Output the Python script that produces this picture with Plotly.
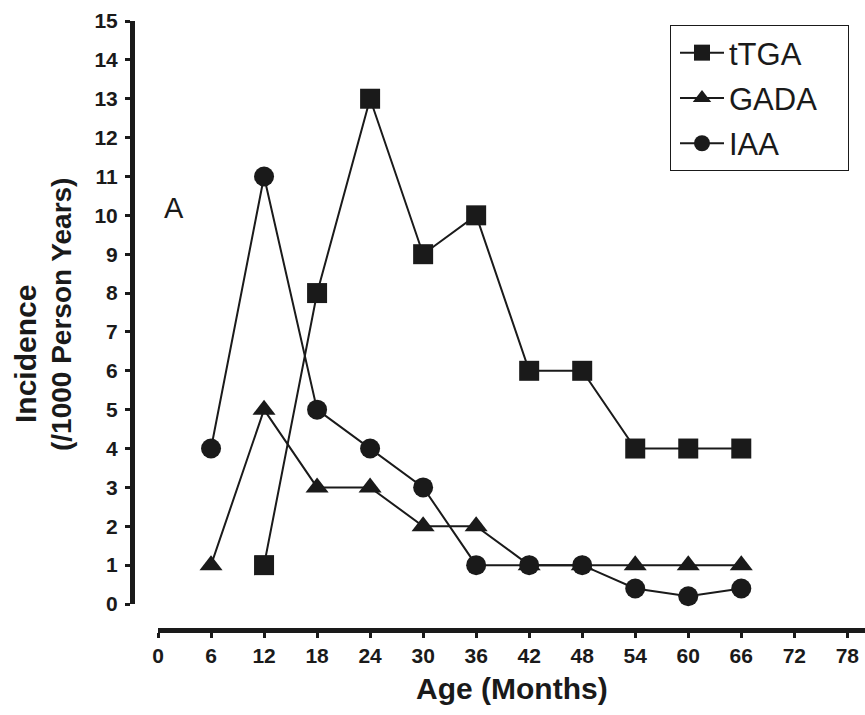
import plotly.graph_objects as go

# ---- data ----
ttga_age = [12, 18, 24, 30, 36, 42, 48, 54, 60, 66]
ttga_inc = [1, 8, 13, 9, 10, 6, 6, 4, 4, 4]
gada_age = [6, 12, 18, 24, 30, 36, 42, 48, 54, 60, 66]
gada_inc = [1, 5, 3, 3, 2, 2, 1, 1, 1, 1, 1]
iaa_age = [6, 12, 18, 24, 30, 36, 42, 48, 54, 60, 66]
iaa_inc = [4, 11, 5, 4, 3, 1, 1, 1, 0.4, 0.2, 0.4]
series_names = ["tTGA", "GADA", "IAA"]
x_ticks = list(range(0, 79, 6))
y_ticks = list(range(0, 16))

W, H = 865, 715
FONT = "Arial, Liberation Sans, Helvetica, sans-serif"
INK = "#1a1a1a"
PAD = "\u00a0\u00a0\u00a0"
TICK_FONT = dict(size=21, family="Liberation Sans", weight=700, color=INK)

def px_x(p):
    return p / W

def px_y(p):
    return (H - p) / H

fig = go.Figure()
series = [
    (series_names[0], ttga_age, ttga_inc, "square"),
    (series_names[1], gada_age, gada_inc, "triangle-up"),
    (series_names[2], iaa_age, iaa_inc, "circle"),
]
for name, xs, ys, sym in series:
    fig.add_trace(go.Scatter(
        x=xs, y=ys, name=name + (PAD if name == "GADA" else ""),
        mode="lines+markers",
        line=dict(color=INK, width=2),
        marker=dict(symbol=sym, size=20, color=INK),
        legendgroup=name, cliponaxis=False,
    ))

fig.update_layout(
    width=W, height=H,
    margin=dict(l=0, r=0, t=0, b=0),
    paper_bgcolor="white", plot_bgcolor="white",
    font=dict(family=FONT, color=INK),
    showlegend=True,
    legend=dict(
        x=px_x(670), y=px_y(25), xanchor="left", yanchor="top",
        bordercolor=INK, borderwidth=1, bgcolor="white",
        font=dict(size=31, family=FONT, color=INK),
        traceorder="grouped", tracegroupgap=2,
        itemwidth=44, indentation=4,
    ),
)
fig.update_xaxes(
    domain=[px_x(158), 1.0], range=[0, 80],
    anchor="free", position=px_y(630),
    showline=True, linewidth=5, linecolor=INK,
    ticks="outside", ticklen=5, tickwidth=3, tickcolor=INK,
    tickmode="array", tickvals=x_ticks, ticktext=[str(v) for v in x_ticks],
    tickfont=TICK_FONT,
    showgrid=False, zeroline=False, automargin=False,
)
fig.update_yaxes(
    domain=[px_y(604), px_y(21)], range=[0, 15],
    anchor="free", position=px_x(132),
    showline=True, linewidth=5, linecolor=INK,
    ticks="outside", ticklen=5, tickwidth=3, tickcolor=INK,
    tickmode="array", tickvals=y_ticks, ticktext=[str(v) for v in y_ticks],
    tickfont=TICK_FONT, ticklabelstandoff=3,
    showgrid=False, zeroline=False, automargin=False,
)

annotations = [
    dict(text="Age (Months)", x=px_x(512), y=px_y(688), xref="paper", yref="paper",
         xanchor="center", yanchor="middle", showarrow=False,
         font=dict(size=30, family=FONT, weight="bold", color=INK)),
    dict(text="Incidence", x=px_x(25), y=px_y(354), xref="paper", yref="paper",
         xanchor="center", yanchor="middle", showarrow=False, textangle=-90,
         font=dict(size=30, family=FONT, weight="bold", color=INK)),
    dict(text="(/1000 Person Years)", x=px_x(62), y=px_y(315), xref="paper", yref="paper",
         xanchor="center", yanchor="middle", showarrow=False, textangle=-90,
         font=dict(size=28, family=FONT, weight="bold", color=INK)),
    dict(text="A", x=px_x(174), y=px_y(208), xref="paper", yref="paper",
         xanchor="center", yanchor="middle", showarrow=False,
         font=dict(size=29, family=FONT, color=INK)),
]
fig.update_layout(annotations=annotations)

fig.write_html("out.html")
